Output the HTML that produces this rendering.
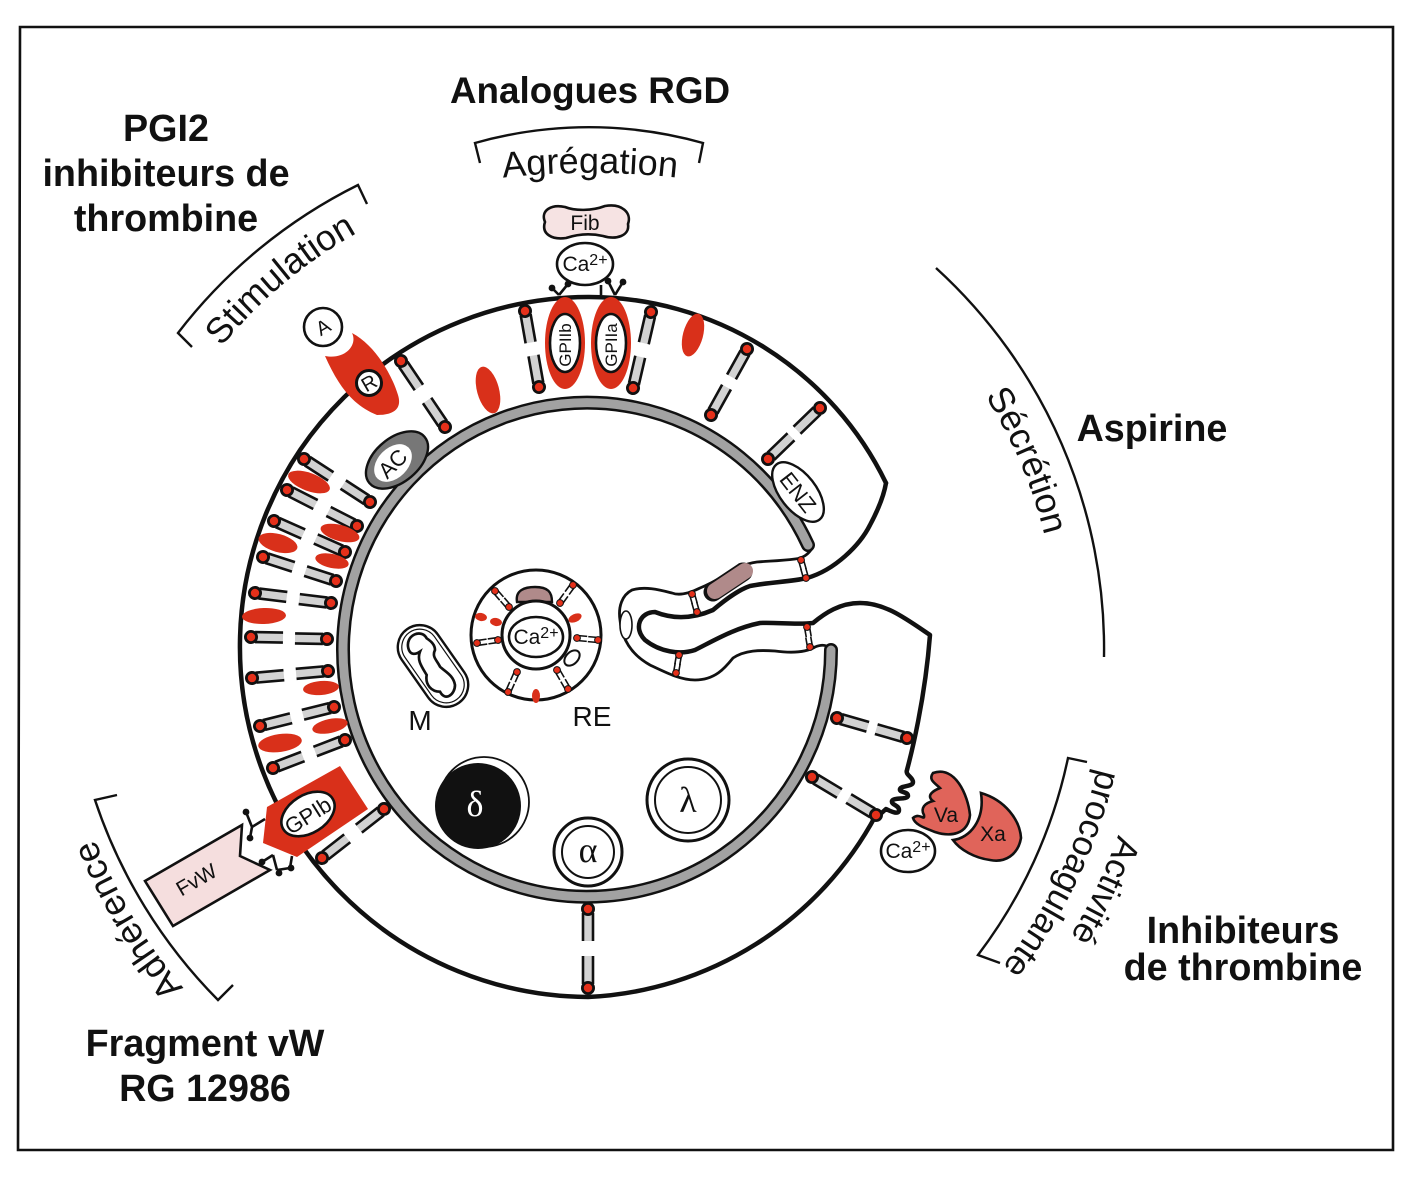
<!DOCTYPE html>
<html><head><meta charset="utf-8"><style>
html,body{margin:0;padding:0;background:#fff}
svg{display:block}
text{font-family:"Liberation Sans",sans-serif;fill:#111}
.b{font-weight:bold;font-size:37.7px;text-anchor:middle}
.c{font-size:36px}
.s{font-size:21px;text-anchor:middle}
.g{font-family:"Liberation Serif",serif;font-size:36px;text-anchor:middle}
</style></head><body>
<svg width="1416" height="1180" viewBox="0 0 1416 1180" xmlns="http://www.w3.org/2000/svg">
<defs>
<g id="h"><rect x="4" y="-4" width="28" height="8" fill="#d2d2d2"/><path d="M4-5H32M4 5H32" stroke="#111" stroke-width="2.6" fill="none"/><circle r="5.6" fill="#e5301a" stroke="#111" stroke-width="2.8"/></g>
<g id="k"><path d="M0-2.5H10M0 2.5H10" stroke="#111" stroke-width="1.6" fill="none"/><circle r="3.4" fill="#e5301a" stroke="#111" stroke-width="1"/></g>
<path id="pStim" d="M115 646A473 473 0 0 1 670 180"/>
<path id="pAgr" d="M340 213A800 800 0 0 1 840 213"/>
<path id="pSec" d="M728 198A472 472 0 0 1 1009 858"/>
<path id="pAdh" d="M504 1169A530 530 0 0 1 88 471"/>
<path id="pPro" d="M1065 430A524 524 0 0 1 718 1154"/>
<path id="pAct" d="M1099 411A563 563 0 0 1 731 1191"/>
</defs>
<rect width="1416" height="1180" fill="#fff"/>
<path d="M20 27H1393V1150H18Z" fill="none" stroke="#111" stroke-width="2.6"/>

<!-- bold labels -->
<text class="b" x="590" y="103" style="font-size:36.8px">Analogues RGD</text>
<text class="b" x="166" y="141">PGI2</text>
<text class="b" x="166" y="186">inhibiteurs de</text>
<text class="b" x="166" y="231">thrombine</text>
<text class="b" x="1152" y="441">Aspirine</text>
<text class="b" x="1243" y="943">Inhibiteurs</text>
<text class="b" x="1243" y="980">de thrombine</text>
<text class="b" x="205" y="1056">Fragment vW</text>
<text class="b" x="205" y="1101">RG 12986</text>

<!-- brackets -->
<g fill="none" stroke="#111" stroke-width="2.4">
<path d="M192 347L178 333A516 516 0 0 1 358 185L367 204"/>
<path d="M480 163L475 143A420 420 0 0 1 703 143L699 163"/>
<path d="M936 268A515 515 0 0 1 1104 657"/>
<path d="M117 795L95 800A515 515 0 0 0 218 1000L233 985"/>
<path d="M1087 762L1068 758A495 495 0 0 1 978 955L1000 963"/>
</g>
<text class="c"><textPath href="#pStim" startOffset="50%" text-anchor="middle">Stimulation</textPath></text>
<text class="c"><textPath href="#pAgr" startOffset="50%" text-anchor="middle">Agrégation</textPath></text>
<text class="c"><textPath href="#pSec" startOffset="50%" text-anchor="middle">Sécrétion</textPath></text>
<text class="c"><textPath href="#pAdh" startOffset="50%" text-anchor="middle">Adhérence</textPath></text>
<text class="c" style="font-size:35px"><textPath href="#pPro" startOffset="50%" text-anchor="middle">procoagulante</textPath></text>
<text class="c" style="font-size:35px"><textPath href="#pAct" startOffset="50%" text-anchor="middle">Activité</textPath></text>

<!-- cell outline -->
<g fill="none" stroke="#111" stroke-linecap="round" stroke-linejoin="round">
<path stroke-width="4.5" d="M886 483A330 330 0 0 0 588 297A349 349 0 0 0 240 640A350 350 0 0 0 588 997A345 345 0 0 0 876 815"/>
<path stroke-width="4.5" d="M876 818L886 809C892 812 899 815 899 810C899 805 891 805 892 801C894 797 907 800 908 796C908 791 899 793 900 789C902 785 913 787 913 782C913 777 905 775 907 770C911 755 925 700 930 635C905 618 885 603 860 603C840 603 825 613 813 623C795 625 775 622 760 623C735 628 715 640 695 650C680 655 660 652 645 640C633 628 640 612 655 612C670 618 690 620 713 610C725 600 738 590 750 586C770 582 790 582 807 578C835 570 860 545 870 525C878 510 884 495 886 483"/>
<path stroke-width="2.8" d="M813 547C808 555 803 558 795 559C780 561 768 561 757 562C735 565 725 578 700 588C690 593 680 596 672 593C660 590 645 586 632 590C622 595 618 607 620 620C622 640 632 655 650 665C665 672 680 680 695 680C715 680 725 668 733 658C745 650 760 650 775 651C790 653 805 653 815 647C820 645 825 644 830 648"/>
<path stroke-width="14" d="M808 545A244 247 0 1 0 831 650"/>
<path stroke-width="9" stroke="#a2a2a2" d="M808 545A244 247 0 1 0 831 650"/>
</g>
<ellipse cx="626" cy="625" rx="6" ry="14" fill="#fff" stroke="#111" stroke-width="1.6"/>
<path d="M713 592L743 572" stroke="#111" stroke-width="19" stroke-linecap="round"/>
<path d="M715 591L745 571" stroke="#b08a8a" stroke-width="16" stroke-linecap="round"/>

<!-- connectors -->
<use href="#h" transform="translate(401 361) rotate(56)"/><use href="#h" transform="translate(445 427) rotate(236)"/>
<use href="#h" transform="translate(525 311) rotate(80)"/><use href="#h" transform="translate(539 387) rotate(260)"/>
<use href="#h" transform="translate(651 312) rotate(103)"/><use href="#h" transform="translate(633 388) rotate(283)"/>
<use href="#h" transform="translate(747 349) rotate(119)"/><use href="#h" transform="translate(711 415) rotate(299)"/>
<use href="#h" transform="translate(820 408) rotate(136)"/><use href="#h" transform="translate(768 459) rotate(316)"/>
<use href="#h" transform="translate(304 459) rotate(33)"/><use href="#h" transform="translate(370 502) rotate(213)"/>
<use href="#h" transform="translate(287 490) rotate(27)"/><use href="#h" transform="translate(357 526) rotate(207)"/>
<use href="#h" transform="translate(274 521) rotate(24)"/><use href="#h" transform="translate(345 552) rotate(204)"/>
<use href="#h" transform="translate(263 557) rotate(18)"/><use href="#h" transform="translate(336 581) rotate(198)"/>
<use href="#h" transform="translate(255 593) rotate(7)"/><use href="#h" transform="translate(331 603) rotate(187)"/>
<use href="#h" transform="translate(251 637) rotate(1)"/><use href="#h" transform="translate(327 639) rotate(181)"/>
<use href="#h" transform="translate(252 678) rotate(-5)"/><use href="#h" transform="translate(328 671) rotate(175)"/>
<use href="#h" transform="translate(260 726) rotate(-14)"/><use href="#h" transform="translate(334 707) rotate(166)"/>
<use href="#h" transform="translate(273 768) rotate(-21)"/><use href="#h" transform="translate(345 740) rotate(159)"/>
<use href="#h" transform="translate(384 809) rotate(142)"/><use href="#h" transform="translate(322 858) rotate(322)"/>
<use href="#h" transform="translate(588 909) rotate(90)"/><use href="#h" transform="translate(588 988) rotate(270)"/>
<use href="#h" transform="translate(837 718) rotate(16)"/><use href="#h" transform="translate(907 738) rotate(196)"/>
<use href="#h" transform="translate(812 777) rotate(31)"/><use href="#h" transform="translate(876 815) rotate(211)"/>
<!-- tail connectors -->
<use href="#k" transform="translate(692 594) rotate(74)"/><use href="#k" transform="translate(697 612) rotate(254)"/>
<use href="#k" transform="translate(801 560) rotate(74)"/><use href="#k" transform="translate(806 578) rotate(254)"/>
<use href="#k" transform="translate(807 627) rotate(80)"/><use href="#k" transform="translate(810 647) rotate(260)"/>
<use href="#k" transform="translate(679 655) rotate(100)"/><use href="#k" transform="translate(676 673) rotate(280)"/>

<!-- red ellipses -->
<g fill="#d9301a">
<ellipse cx="309" cy="482" rx="22" ry="9" transform="rotate(20 309 482)"/>
<ellipse cx="278" cy="543" rx="20" ry="9" transform="rotate(15 278 543)"/>
<ellipse cx="340" cy="533" rx="20" ry="8" transform="rotate(15 340 533)"/>
<ellipse cx="332" cy="561" rx="17" ry="7" transform="rotate(12 332 561)"/>
<ellipse cx="264" cy="616" rx="22" ry="8" transform="rotate(-2 264 616)"/>
<ellipse cx="321" cy="688" rx="18" ry="7" transform="rotate(-5 321 688)"/>
<ellipse cx="330" cy="726" rx="18" ry="7" transform="rotate(-12 330 726)"/>
<ellipse cx="280" cy="743" rx="22" ry="9" transform="rotate(-8 280 743)"/>
<ellipse cx="488" cy="390" rx="11" ry="24" transform="rotate(-15 488 390)"/>
<ellipse cx="693" cy="335" rx="10" ry="22" transform="rotate(15 693 335)"/>
<ellipse cx="565" cy="343" rx="20" ry="46"/>
<ellipse cx="611" cy="343" rx="20" ry="46"/>
</g>
<g fill="#fff" stroke="#111" stroke-width="2.6">
<ellipse cx="565" cy="343" rx="15" ry="29"/>
<ellipse cx="611" cy="343" rx="15" ry="29"/>
</g>
<text class="s" style="font-size:17px" transform="translate(571 345) rotate(-90)">GPIIb</text>
<text class="s" style="font-size:17px" transform="translate(617 345) rotate(-90)">GPIIa</text>

<!-- Fib & Ca -->
<path d="M559 295L552 288M559 295L568 284M601 295L601 285M615 295L623 282M615 295L608 281" stroke="#111" stroke-width="2.6"/>
<g fill="#111"><circle cx="552" cy="288" r="3.4"/><circle cx="568" cy="284" r="3.4"/><circle cx="623" cy="282" r="3.4"/><circle cx="608" cy="281" r="3.4"/></g>
<path d="M545 222C540 210 552 204 565 207C575 211 592 211 605 206C622 203 632 213 628 224C630 236 616 240 603 236C590 233 578 234 566 238C552 240 541 234 545 222Z" fill="#f6e3e3" stroke="#111" stroke-width="2.6"/>
<text class="s" x="585" y="230">Fib</text>
<ellipse cx="585" cy="264" rx="28" ry="21" fill="#fff" stroke="#111" stroke-width="2.6"/>
<text class="s" x="585" y="271">Ca<tspan font-size="16" dy="-6">2+</tspan></text>

<!-- A / R -->
<path d="M352 333C358 345 345 360 325 356C338 385 352 405 377 415C395 415 402 408 398 395C392 375 375 345 352 333Z" fill="#d9301a"/>
<circle cx="369" cy="383" r="12.5" fill="#fff" stroke="#111" stroke-width="3"/>
<text class="s" style="font-size:20px" transform="translate(372.5 389) rotate(-30)">R</text>
<circle cx="323" cy="327" r="19" fill="#fff" stroke="#111" stroke-width="2.6"/>
<text class="s" style="font-size:20px" transform="translate(326.5 333) rotate(-30)">A</text>

<!-- AC -->
<ellipse cx="397" cy="460" rx="36" ry="22" fill="#777" stroke="#111" stroke-width="2.4" transform="rotate(-40 397 460)"/>
<ellipse cx="393" cy="463" rx="22" ry="15" fill="#fff" transform="rotate(-45 393 463)"/>
<text class="s" style="font-size:22px" transform="translate(398 469) rotate(-45)">AC</text>

<!-- ENZ -->
<ellipse cx="798" cy="492" rx="35" ry="18" fill="#fff" stroke="#111" stroke-width="2.4" transform="rotate(52 798 492)"/>
<text class="s" style="font-size:22px" transform="translate(792 497) rotate(52)">ENZ</text>

<!-- GPIb & FvW -->
<path d="M265 819L252 827M252 827L246 812M252 827L250 838M273 855L262 862M273 855L277 870M277 870L290 868M290 868L292 856" stroke="#111" stroke-width="2.6" fill="none"/>
<g fill="#111"><circle cx="246" cy="812" r="3.4"/><circle cx="250" cy="838" r="3.4"/><circle cx="262" cy="862" r="3.4"/><circle cx="279" cy="873" r="3.4"/><circle cx="291" cy="868" r="3.4"/></g>
<path d="M145 881L242 825L240 856L270 870L173 926Z" fill="#f5dede" stroke="#111" stroke-width="2.6"/>
<text class="s" style="font-size:21px" transform="translate(200 886) rotate(-30)">FvW</text>
<path d="M340 766L368 809L297 857L263 843L267 807Z" fill="#d9301a"/>
<ellipse cx="308" cy="814" rx="29" ry="19" fill="#fff" stroke="#111" stroke-width="2.6" transform="rotate(-32 308 814)"/>
<text class="s" style="font-size:22px" transform="translate(312 822) rotate(-32)">GPIb</text>

<!-- Mitochondrion -->
<g transform="rotate(55 433 666)" fill="none" stroke="#111">
<rect x="388" y="644" width="90" height="44" rx="22" stroke-width="2.4"/>
<rect x="392" y="648" width="82" height="36" rx="18" stroke-width="1.2"/>
</g>
<path transform="translate(390 560) scale(.3333)" fill="#fff" stroke="#111" stroke-width="8" d="M55 265C45 225 95 205 110 235C125 245 135 255 135 270C125 290 140 300 150 320C165 335 190 345 195 375C195 405 165 425 150 395C125 395 105 375 110 345C95 320 80 300 90 275C75 285 60 285 55 265Z"/>
<text x="420" y="730" style="font-size:28px" text-anchor="middle">M</text>
<text x="592" y="726" style="font-size:28px" text-anchor="middle">RE</text>

<!-- ER -->
<circle cx="536" cy="635" r="65" fill="#fff" stroke="#111" stroke-width="3"/>
<path d="M517 602C515 590 525 587 535 587C548 587 552 592 552 602Z" fill="#b08a8a" stroke="#111" stroke-width="2.4"/>
<g fill="#d9301a">
<ellipse cx="481" cy="617" rx="6" ry="4" transform="rotate(10 481 617)"/>
<ellipse cx="496" cy="622" rx="6" ry="4" transform="rotate(10 496 622)"/>
<ellipse cx="575" cy="618" rx="7" ry="4" transform="rotate(-25 575 618)"/>
<ellipse cx="536" cy="696" rx="4" ry="7"/>
</g>
<use href="#k" transform="translate(495 591) rotate(49)"/><use href="#k" transform="translate(509 607) rotate(229)"/>
<use href="#k" transform="translate(573 585) rotate(126)"/><use href="#k" transform="translate(560 603) rotate(306)"/>
<use href="#k" transform="translate(598 640) rotate(185)"/><use href="#k" transform="translate(577 638) rotate(5)"/>
<use href="#k" transform="translate(568 689) rotate(240)"/><use href="#k" transform="translate(557 670) rotate(60)"/>
<use href="#k" transform="translate(508 692) rotate(-66)"/><use href="#k" transform="translate(517 672) rotate(114)"/>
<use href="#k" transform="translate(477 643) rotate(-8)"/><use href="#k" transform="translate(498 640) rotate(172)"/>
<circle cx="536" cy="635" r="34" fill="#fff" stroke="#111" stroke-width="3"/>
<ellipse cx="572" cy="658" rx="9" ry="6" fill="#fff" stroke="#111" stroke-width="2" transform="rotate(-45 572 658)"/>
<ellipse cx="536" cy="637" rx="27" ry="20" fill="#fff" stroke="#111" stroke-width="2.6"/>
<text class="s" x="536" y="644">Ca<tspan font-size="16" dy="-6">2+</tspan></text>

<!-- vesicles -->
<circle cx="484" cy="802" r="45" fill="#fff" stroke="#111" stroke-width="1.8"/>
<circle cx="478" cy="806" r="43" fill="#111"/>
<text class="g" x="475" y="816" style="fill:#fff">δ</text>
<circle cx="588" cy="852" r="34" fill="#fff" stroke="#111" stroke-width="3"/>
<circle cx="588" cy="852" r="26" fill="#fff" stroke="#111" stroke-width="2"/>
<text class="g" x="588" y="862">α</text>
<circle cx="688" cy="800" r="41" fill="#fff" stroke="#111" stroke-width="3"/>
<circle cx="688" cy="800" r="33" fill="#fff" stroke="#111" stroke-width="2"/>
<text class="g" x="688" y="812">λ</text>

<!-- Va Xa -->
<path d="M933 773C955 765 968 795 970 815C968 835 950 837 935 832C925 828 915 825 913 818C920 812 925 822 924 815C920 808 925 803 933 801C925 795 935 790 940 788C935 783 928 780 933 773Z" fill="#e0645a" stroke="#111" stroke-width="2.6"/>
<text class="s" x="946" y="822">Va</text>
<path d="M981 793C1005 800 1020 820 1021 838C1018 855 1005 863 990 860C975 858 960 850 953 840C970 838 985 820 981 793Z" fill="#e0645a" stroke="#111" stroke-width="2.6"/>
<text class="s" x="993" y="841">Xa</text>
<ellipse cx="908" cy="851" rx="27" ry="21" fill="#fff" stroke="#111" stroke-width="2.6"/>
<text class="s" x="908" y="858">Ca<tspan font-size="16" dy="-6">2+</tspan></text>
</svg>
</body></html>
